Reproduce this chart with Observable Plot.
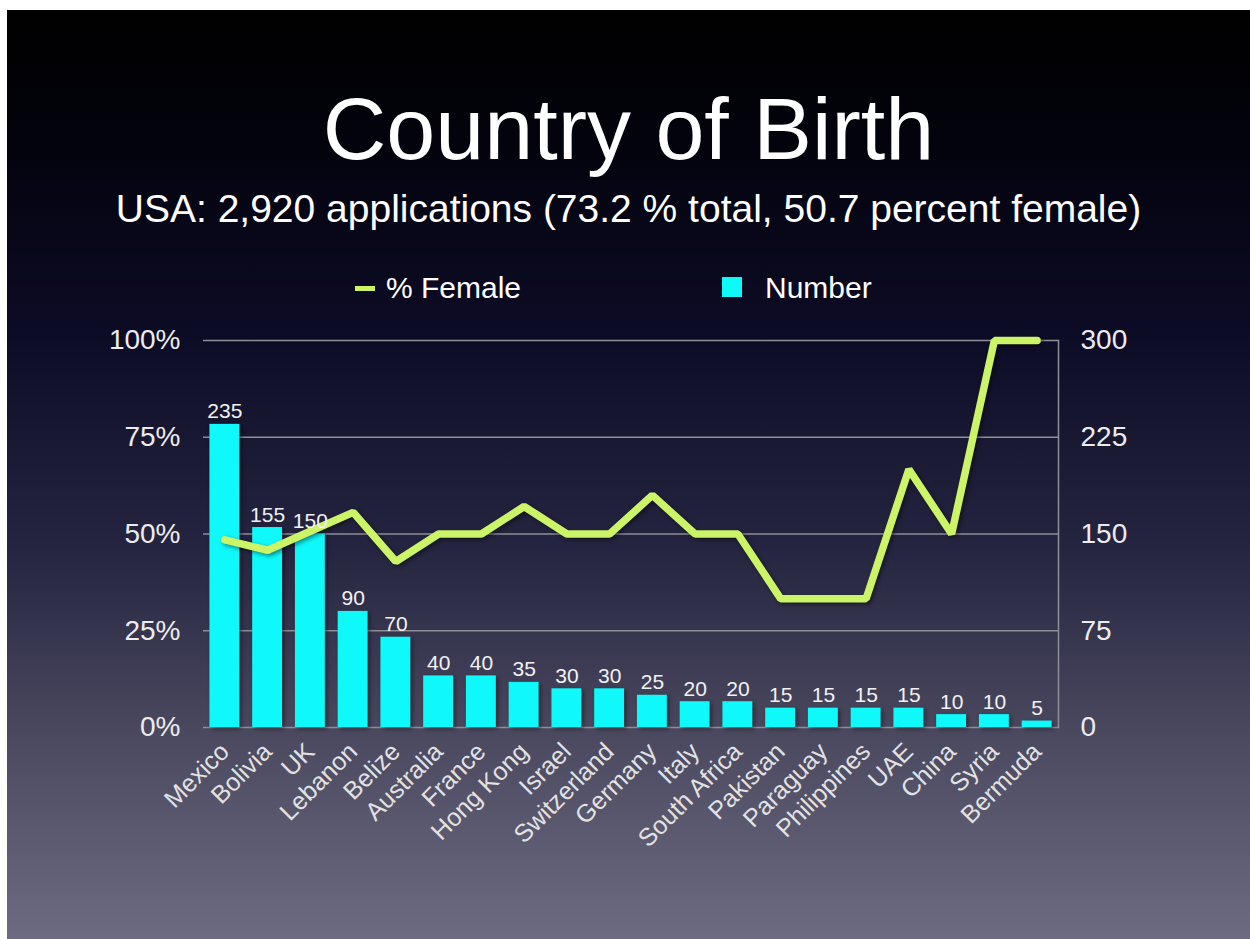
<!DOCTYPE html>
<html>
<head>
<meta charset="utf-8">
<script src="https://cdn.jsdelivr.net/npm/d3@7"></script>
<script src="https://cdn.jsdelivr.net/npm/@observablehq/plot@0.6"></script>
<style>
  html, body { margin: 0; padding: 0; background: #ffffff; width: 1250px; height: 939px; overflow: hidden; }
  body { position: relative; font-family: "Liberation Sans", Arial, sans-serif; }
  #bg { position: absolute; left: 7px; top: 10px; width: 1243px; height: 929px;
        background: linear-gradient(to bottom, #000000 0%, #03030e 15%, #0d0c26 35%, #262541 58%, #4a495f 78%, #6c6b82 100%); }
  .t { position: absolute; color: #ffffff; white-space: nowrap; line-height: 1; }
  #title { left: 7px; width: 1243px; text-align: center; top: 85px; font-size: 88px; }
  #subtitle { left: 7px; width: 1243px; text-align: center; top: 189px; font-size: 39px; }
  .leg { position: absolute; top: 273px; font-size: 30px; color: #ffffff; line-height: 1; white-space: nowrap; }
  #chart { position: absolute; left: 7px; top: 320px; }
  #chart svg [aria-label="bar"], #chart svg [aria-label="line"] { filter: drop-shadow(2px 2px 2px rgba(0,0,0,0.45)); }
</style>
</head>
<body>
<div id="bg"></div>
<div id="title" class="t">Country of Birth</div>
<div id="subtitle" class="t">USA: 2,920 applications (73.2 % total, 50.7 percent female)</div>
<div style="position:absolute;left:355px;top:286px;width:20px;height:5px;background:#cbf466;"></div>
<div class="leg" style="left:386px;">% Female</div>
<div style="position:absolute;left:722px;top:277px;width:20px;height:20px;background:#0ff9fb;"></div>
<div class="leg" style="left:765px;">Number</div>
<div id="chart"></div>
<script>
const countries = ["Mexico","Bolivia","UK","Lebanon","Belize","Australia","France","Hong Kong","Israel","Switzerland","Germany","Italy","South Africa","Pakistan","Paraguay","Philippines","UAE","China","Syria","Bermuda"];
const numbers = [235,155,150,90,70,40,40,35,30,30,25,20,20,15,15,15,15,10,10,5];
const pctFemale = [48.5,45.8,50.7,55.6,42.9,50,50,57.1,50,50,60,50,50,33.3,33.3,33.3,66.7,50,100,100];
const rightTicks = [0,75,150,225,300];
const leftTicks = ["0%","25%","50%","75%","100%"];

const data = countries.map((c, i) => ({country: c, number: numbers[i], female: pctFemale[i]}));

const chart = Plot.plot({
  width: 1243,
  height: 557,
  marginLeft: 196,
  marginRight: 192,
  marginTop: 20,
  marginBottom: 150,
  style: {background: "transparent", color: "#ececec", fontFamily: "Liberation Sans, Arial, sans-serif", overflow: "visible"},
  x: {domain: countries, paddingInner: 0.3, paddingOuter: 0.15, round: false},
  y: {domain: [0, 300]},
  marks: [
    Plot.ruleY(rightTicks, {stroke: "#8e8e96", strokeWidth: 1.5}),
    Plot.frame({anchor: "right", stroke: "#8e8e96", strokeWidth: 1.5}),
    Plot.barY(data, {x: "country", y: "number", fill: "#0ff9fb"}),
    Plot.line(data, {x: "country", y: d => d.female * 3, stroke: "#cbf466", strokeWidth: 7.5, strokeLinejoin: "miter"}),
    Plot.text(data, {x: "country", y: "number", text: d => String(d.number), dy: -6, lineAnchor: "bottom", fill: "#f2f2f2", fontSize: 21}),
    Plot.axisY({ticks: rightTicks, tickFormat: d => leftTicks[rightTicks.indexOf(d)], anchor: "left", tickSize: 0, tickPadding: 23, fontSize: 28, label: null}),
    Plot.axisY({ticks: rightTicks, tickFormat: d => String(d), anchor: "right", tickSize: 0, tickPadding: 22, fontSize: 28, label: null}),
    Plot.axisX({tickRotate: -45, tickSize: 0, tickPadding: 20, fontSize: 25, label: null, fill: "#e2e2e2"})
  ]
});
document.getElementById("chart").appendChild(chart);
</script>
</body>
</html>
